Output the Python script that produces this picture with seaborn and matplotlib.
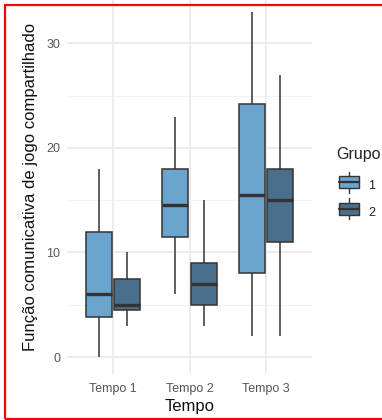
import matplotlib
matplotlib.use("Agg")
import matplotlib.pyplot as plt
from matplotlib.patches import Rectangle
from matplotlib.lines import Line2D
from matplotlib.legend_handler import HandlerBase
import numpy as np
import pandas as pd
import seaborn as sns

# Five-number summaries per time point (whisker low, Q1, median, Q3, whisker high)
tempos = ["Tempo 1", "Tempo 2", "Tempo 3"]
grupos = ["1", "2"]
grupo1_resumo = [
    [0, 3.85, 6.0, 12.0, 18],
    [6, 11.5, 14.5, 18.0, 23],
    [2, 8.0, 15.5, 24.2, 33],
]
grupo2_resumo = [
    [3, 4.5, 5.0, 7.5, 10],
    [3, 5.0, 7.0, 9.0, 15],
    [2, 11.0, 15.0, 18.0, 27],
]
cores = ["#6BA4CD", "#4A6F8C"]
yticks = [0, 10, 20, 30]

rows = []
for g, resumo in zip(grupos, [grupo1_resumo, grupo2_resumo]):
    for t, vals in zip(tempos, resumo):
        for v in vals:
            rows.append({"Tempo": t, "Grupo": g, "valor": v})
df = pd.DataFrame(rows)

sns.set_theme(style="white")
plt.rcParams["font.family"] = ["Liberation Sans", "DejaVu Sans"]

W, H = 382, 420
fig = plt.figure(figsize=(W / 100, H / 100), dpi=100)
fig.patch.set_facecolor("white")

left, right = 67 / W, 312 / W
bottom_px = 374.3
ax = fig.add_axes([left, (H - bottom_px) / H, right - left, bottom_px / H])

# grid lines (theme_minimal look)
for y in [5, 15, 25]:
    ax.axhline(y, color="#F2F2F2", lw=0.8, zorder=0)
for y in yticks:
    ax.axhline(y, color="#EBEBEB", lw=1.3, zorder=0)
for x in range(len(tempos)):
    ax.axvline(x, color="#EBEBEB", lw=1.3, zorder=0)

edge = "#333333"
sns.boxplot(
    data=df, x="Tempo", y="valor", hue="Grupo", order=tempos, hue_order=grupos,
    palette=cores, saturation=1, width=0.75, gap=0.1, whis=(0, 100),
    linecolor=edge, linewidth=1.1, showcaps=False,
    medianprops={"linewidth": 2.4, "color": edge},
    legend=False, ax=ax, zorder=2,
)

ax.set_xlim(-0.6, 2.6)
ax.set_ylim(-1.65, 34.14)
ax.set_yticks(yticks)
ax.set_yticklabels([str(v) for v in yticks])
for s in ax.spines.values():
    s.set_visible(False)
ax.tick_params(axis="x", length=0, labelsize=9, colors="#555555", pad=6)
ax.tick_params(axis="y", length=0, labelsize=9, colors="#555555", pad=5)
ax.set_xlabel("Tempo", fontsize=12, color="#111111", labelpad=3)
ax.set_ylabel("Função comunicativa de jogo compartilhado", fontsize=12.0,
              color="#111111", labelpad=6)
ax.set_facecolor("none")


class BoxKey(HandlerBase):
    def create_artists(self, legend, orig, xd, yd, width, height, fontsize, trans):
        cx = xd + width / 2
        cy = yd + height / 2
        bw, bh = width, height * 1.1
        rect = Rectangle((cx - bw / 2, cy - bh / 2), bw, bh,
                         facecolor=orig.get_facecolor(), edgecolor=edge,
                         lw=1.0, transform=trans)
        med = Line2D([cx - bw / 2, cx + bw / 2], [cy, cy], color=edge, lw=1.6,
                     transform=trans)
        w1 = Line2D([cx, cx], [cy + bh / 2, cy + bh / 2 + 3], color=edge, lw=1.0,
                    transform=trans)
        w2 = Line2D([cx, cx], [cy - bh / 2, cy - bh / 2 - 3], color=edge, lw=1.0,
                    transform=trans)
        return [w1, w2, rect, med]


handles = [Rectangle((0, 0), 1, 1, facecolor=c) for c in cores]
leg = fig.legend(
    handles, grupos, loc="center left",
    bbox_to_anchor=(336.5 / W, 1 - 199 / H), frameon=False,
    handler_map={Rectangle: BoxKey()}, fontsize=9,
    handlelength=1.6, handleheight=1.0, labelspacing=1.08, handletextpad=0.76,
    borderpad=0.2, borderaxespad=0,
)
for t in leg.get_texts():
    t.set_color("#222222")
fig.text(336 / W, 1 - 155 / H, "Grupo", fontsize=11.5, color="#222222",
         ha="left", va="center")

# red frame around the figure
fig.patches.append(Rectangle((5 / W, 1 / H), 1.2, 414 / H, transform=fig.transFigure,
                             fill=False, edgecolor="#FF0000", lw=1.6, clip_on=False))

fig.savefig("out.png", dpi=100)
